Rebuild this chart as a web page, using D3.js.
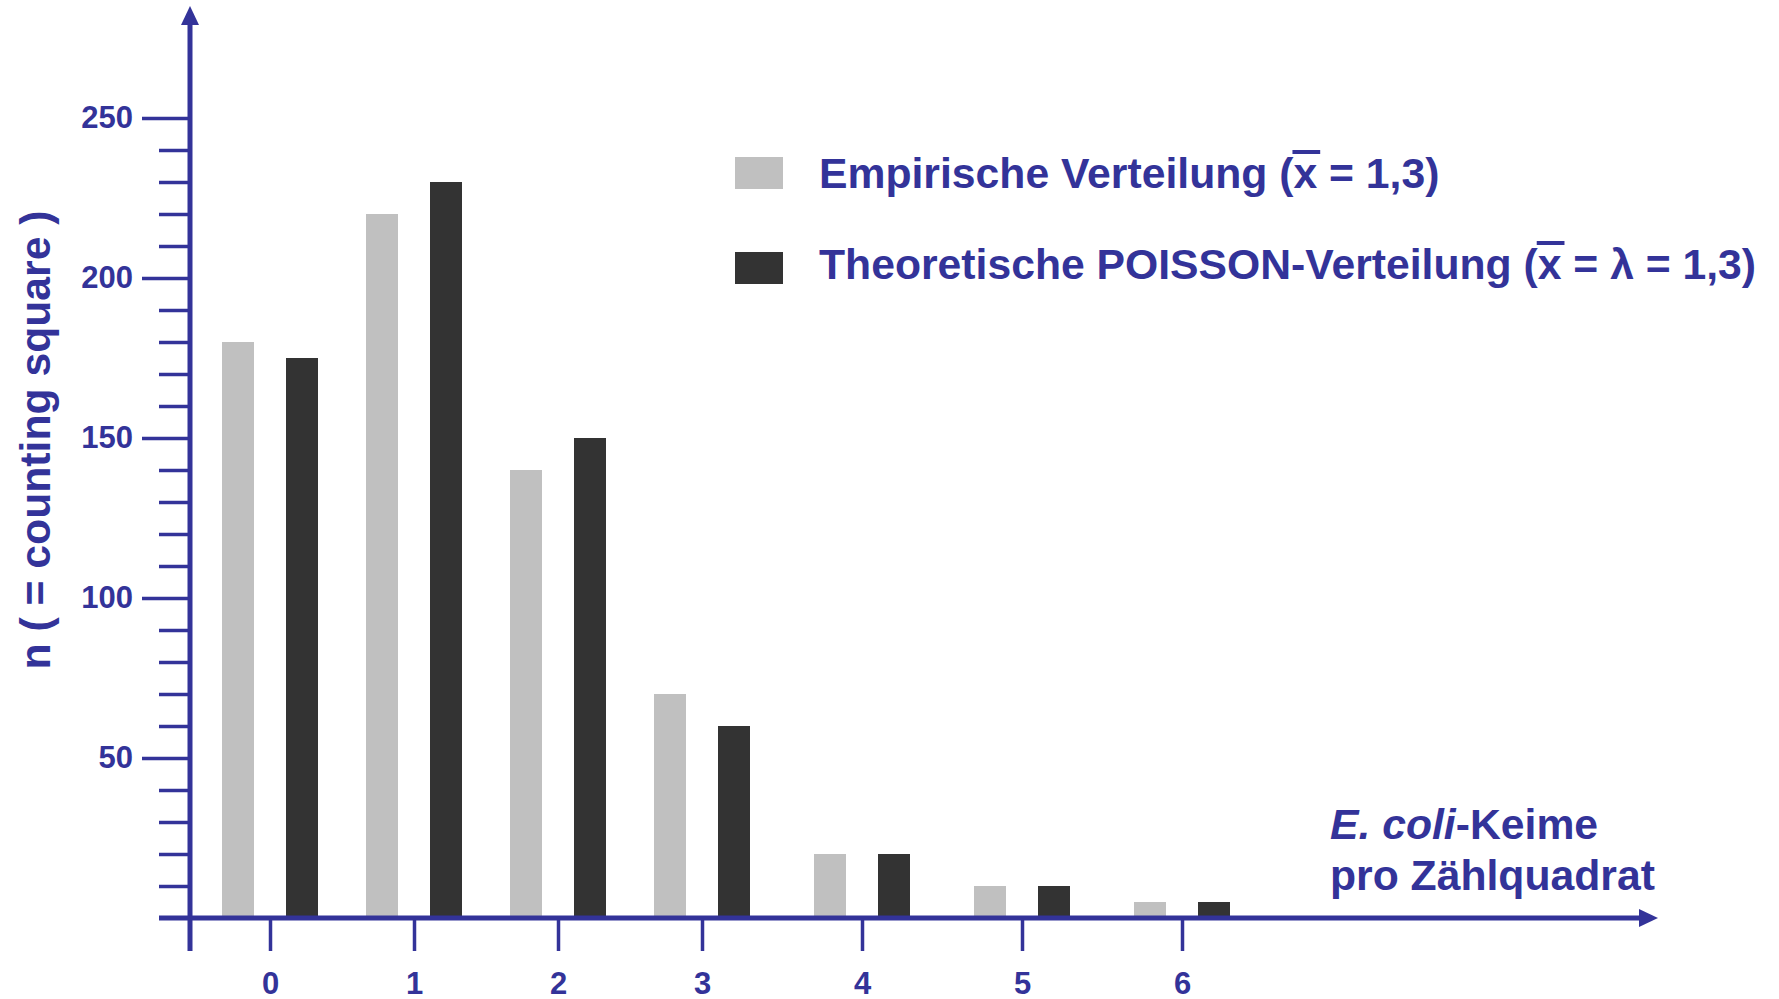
<!DOCTYPE html>
<html>
<head>
<meta charset="utf-8">
<script src="https://cdn.jsdelivr.net/npm/d3@7"></script>
<style>
  body { margin: 0; background: #fff; }
  text { font-family: "Liberation Sans", Arial, sans-serif; font-weight: bold; fill: #333399; }
</style>
</head>
<body>
<div id="chart"></div>
<script>
// Data.
const categories = [0, 1, 2, 3, 4, 5, 6];
const empirical = [180, 220, 140, 70, 20, 10, 5];
const poisson = [175, 230, 150, 60, 20, 10, 5];
const yMajorTicks = [50, 100, 150, 200, 250];
const yMinorTicks = [10, 20, 30, 40, 60, 70, 80, 90, 110, 120, 130, 140, 160, 170, 180, 190, 210, 220, 230, 240];
const legendLabels = [
    ["Empirische Verteilung (", "x", " = 1,3)"],
    ["Theoretische POISSON-Verteilung (", "x", " = \u03bb = 1,3)"]
];
const yTitle = "n ( = counting square )";

// Constants.
const w = 1779, h = 999;
const axisColor = "#333399";
const colors = ["#c0c0c0", "#333333"];
const x0 = 190, y0 = 918;
const bigFont = "42.7px", tickFont = "31px";

const svg = d3.select("#chart")
    .append("svg")
    .attr("width", w)
    .attr("height", h);

// Scales. The categories are not evenly spaced in the original slide.
const xScale = d3.scaleLinear()
    .domain([0, 3, 6])
    .range([270, 702, 1182]);
const yScale = d3.scaleLinear()
    .domain([0, 250])
    .range([y0, 118]);

// Bars.
const barW = 32, barOff = 16;
[empirical, poisson].forEach((series, s) => {
    svg.append("g")
        .selectAll("rect")
        .data(series)
        .enter()
        .append("rect")
        .attr("x", (d, i) => s === 0 ? xScale(categories[i]) - barOff - barW : xScale(categories[i]) + barOff)
        .attr("y", d => yScale(d))
        .attr("width", barW)
        .attr("height", d => y0 - yScale(d))
        .attr("fill", colors[s]);
});

// Y axis: minor ticks, then major ticks with labels.
const yMinor = svg.append("g")
    .attr("transform", `translate(${x0},0)`)
    .call(d3.axisLeft(yScale).tickValues(yMinorTicks).tickSize(31).tickFormat(""));
const yMajor = svg.append("g")
    .attr("transform", `translate(${x0},0)`)
    .call(d3.axisLeft(yScale).tickValues(yMajorTicks).tickSize(48).tickPadding(9));
[yMinor, yMajor].forEach(g => {
    g.select(".domain").remove();
    g.selectAll("line").attr("stroke", axisColor).attr("stroke-width", 3.5);
});
yMajor.selectAll("text")
    .attr("fill", axisColor)
    .style("font-size", tickFont);

// X axis ticks and labels.
const xAxis = svg.append("g")
    .attr("transform", `translate(0,${y0})`)
    .call(d3.axisBottom(xScale).tickValues(categories).tickSize(33).tickPadding(21).tickFormat(d3.format("d")));
xAxis.select(".domain").remove();
xAxis.selectAll("line").attr("stroke", axisColor).attr("stroke-width", 3.5);
xAxis.selectAll("text").attr("fill", axisColor).style("font-size", tickFont);

// Axis lines with arrow heads.
svg.append("line")
    .attr("x1", x0).attr("y1", 951)
    .attr("x2", x0).attr("y2", 22)
    .attr("stroke", axisColor).attr("stroke-width", 5);
svg.append("path")
    .attr("d", `M${x0},6 L${x0 + 9},25 L${x0 - 9},25 Z`)
    .attr("fill", axisColor);
svg.append("line")
    .attr("x1", 159).attr("y1", y0)
    .attr("x2", 1642).attr("y2", y0)
    .attr("stroke", axisColor).attr("stroke-width", 5);
svg.append("path")
    .attr("d", `M1658,${y0} L1639,${y0 - 9} L1639,${y0 + 9} Z`)
    .attr("fill", axisColor);

// Y axis title.
svg.append("text")
    .attr("transform", "translate(50,440) rotate(-90)")
    .attr("text-anchor", "middle")
    .style("font-size", bigFont)
    .text(yTitle);

// X axis title.
const xt = svg.append("text")
    .attr("x", 1330).attr("y", 839)
    .style("font-size", bigFont);
xt.append("tspan").style("font-style", "italic").text("E. coli");
xt.append("tspan").text("-Keime");
svg.append("text")
    .attr("x", 1330).attr("y", 890)
    .style("font-size", bigFont)
    .text("pro Z\u00e4hlquadrat");

// Legend.
const legendY = [157, 252];
const baseY = [188, 279];
legendLabels.forEach((parts, i) => {
    svg.append("rect")
        .attr("x", 735).attr("y", legendY[i])
        .attr("width", 48).attr("height", 32)
        .attr("fill", colors[i]);
    const t = svg.append("text")
        .attr("x", 819).attr("y", baseY[i])
        .style("font-size", bigFont);
    parts.forEach(p => t.append("tspan").text(p));
    // Overline over the mean symbol.
    const node = t.node();
    const idx = parts[0].length;
    const xs = node.getStartPositionOfChar(idx).x;
    const xe = node.getEndPositionOfChar(idx).x;
    svg.append("line")
        .attr("x1", xs - 1).attr("x2", xe + 3)
        .attr("y1", baseY[i] - 36).attr("y2", baseY[i] - 36)
        .attr("stroke", axisColor).attr("stroke-width", 4);
});
</script>
</body>
</html>
